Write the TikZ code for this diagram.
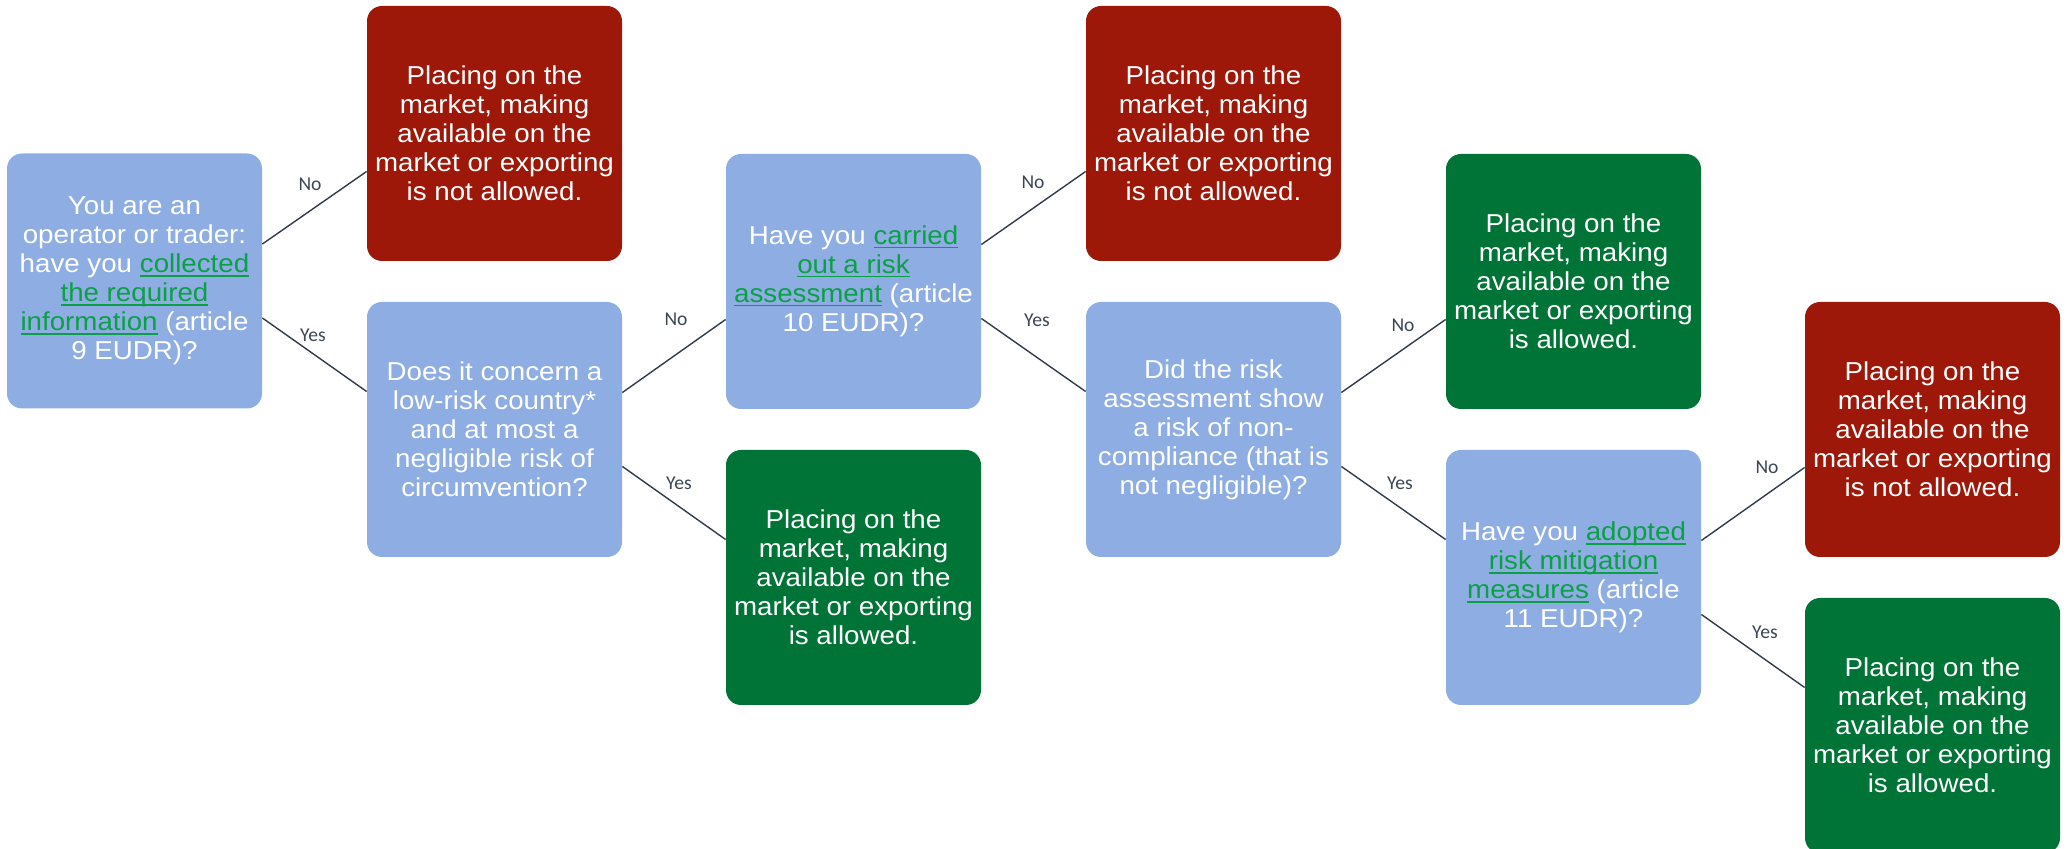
\documentclass[tikz,border=0pt]{standalone}
\usepackage{fontspec}
\setmainfont{Liberation Sans}[FakeStretch=1.07]
\newfontfamily\lblfont{Carlito}
\usetikzlibrary{calc}
\definecolor{qblue}{RGB}{142,174,227}
\definecolor{nored}{RGB}{158,24,10}
\definecolor{yesgreen}{RGB}{0,115,54}
\definecolor{linkgreen}{RGB}{10,160,70}
\definecolor{connc}{RGB}{47,59,76}
\definecolor{lblc}{RGB}{58,70,84}
\newsavebox{\lnkbox}
\newcommand{\lnk}[1]{\textcolor{linkgreen}{\sbox{\lnkbox}{#1}\rlap{\rule[-1.9pt]{\wd\lnkbox}{0.8pt}}\usebox{\lnkbox}}}
\begin{document}
\begin{tikzpicture}[x=0.5pt,y=-0.5pt,
  box/.style={rectangle, rounded corners=7.5pt, minimum width=127.5pt, minimum height=127.5pt,
    inner sep=2pt, align=center, text=white, font=\fontsize{12.95}{14.5}\selectfont},
  qbox/.style={box, fill=qblue},
  nobox/.style={box, fill=nored},
  yesbox/.style={box, fill=yesgreen},
  conn/.style={draw=connc, line width=0.7pt},
  lbl/.style={text=lblc, font=\lblfont\fontsize{9.8}{11}\selectfont, inner sep=0pt}]
\clip (0,0) rectangle (2069,849);
% question boxes
\node[qbox] (A) at (134.5,281) {You are an\\operator or trader:\\have you \lnk{collected}\\\lnk{the required}\\\lnk{information} (article\\9 EUDR)?};
\node[qbox] (B) at (494.5,429.5) {Does it concern a\\low-risk country*\\and at most a\\negligible risk of\\circumvention?};
\node[qbox] (C) at (853.5,281.5) {Have you \lnk{carried}\\\lnk{out a risk}\\\lnk{assessment} (article\\10 EUDR)?};
\node[qbox] (D) at (1213.5,429.5) {Did the risk\\assessment show\\a risk of non-\\compliance (that is\\not negligible)?};
\node[qbox] (E) at (1573.5,577.5) {Have you \lnk{adopted}\\\lnk{risk mitigation}\\\lnk{measures} (article\\11 EUDR)?};
% outcome boxes
\node[nobox] (R1) at (494.5,133.5) {Placing on the\\market, making\\available on the\\market or exporting\\is not allowed.};
\node[nobox] (R2) at (1213.5,133.5) {Placing on the\\market, making\\available on the\\market or exporting\\is not allowed.};
\node[nobox] (R3) at (1932.5,429.5) {Placing on the\\market, making\\available on the\\market or exporting\\is not allowed.};
\node[yesbox] (G1) at (853.5,577.5) {Placing on the\\market, making\\available on the\\market or exporting\\is allowed.};
\node[yesbox] (G2) at (1573.5,281.5) {Placing on the\\market, making\\available on the\\market or exporting\\is allowed.};
\node[yesbox] (G3) at (1932.5,725.5) {Placing on the\\market, making\\available on the\\market or exporting\\is allowed.};
% connectors
\draw[conn] ($(A.east)+(0,-37)$) -- ($(R1.west)+(0,38)$);
\draw[conn] ($(A.east)+(0,37)$) -- ($(B.west)+(0,-38)$);
\draw[conn] ($(B.east)+(0,-37)$) -- ($(C.west)+(0,38)$);
\draw[conn] ($(B.east)+(0,37)$) -- ($(G1.west)+(0,-38)$);
\draw[conn] ($(C.east)+(0,-37)$) -- ($(R2.west)+(0,38)$);
\draw[conn] ($(C.east)+(0,37)$) -- ($(D.west)+(0,-38)$);
\draw[conn] ($(D.east)+(0,-37)$) -- ($(G2.west)+(0,38)$);
\draw[conn] ($(D.east)+(0,37)$) -- ($(E.west)+(0,-38)$);
\draw[conn] ($(E.east)+(0,-37)$) -- ($(R3.west)+(0,38)$);
\draw[conn] ($(E.east)+(0,37)$) -- ($(G3.west)+(0,-38)$);
% labels
\node[lbl] (l1) at (310,184) {No};
\node[lbl] (l2) at (313,335) {Yes};
\node[lbl] (l3) at (676,319) {No};
\node[lbl] (l4) at (679,483) {Yes};
\node[lbl] (l5) at (1033,182) {No};
\node[lbl] (l6) at (1037,320) {Yes};
\node[lbl] (l7) at (1403,325) {No};
\node[lbl] (l8) at (1400,483) {Yes};
\node[lbl] (l9) at (1767,467) {No};
\node[lbl] (l10) at (1765,632) {Yes};
\end{tikzpicture}
\end{document}
